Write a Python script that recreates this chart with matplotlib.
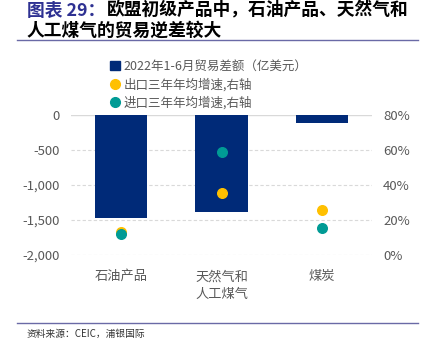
import matplotlib
matplotlib.use("Agg")
import matplotlib.pyplot as plt
from matplotlib.lines import Line2D
from matplotlib.patches import Patch
import numpy as np

plt.rcParams["font.family"] = ["Noto Sans CJK SC", "DejaVu Sans"]
plt.rcParams["axes.unicode_minus"] = False

# 数据
categories = ["石油产品", "天然气和\n人工煤气", "煤炭"]
trade_balance = [-1470, -1385, -115]       # 2022年1-6月贸易差额（亿美元）
export_growth = [13.0, 35.5, 25.7]         # 出口三年年均增速 %
import_growth = [12.0, 59.0, 15.5]         # 进口三年年均增速 %

left_ticks = [0, -500, -1000, -1500, -2000]
right_ticks = [0, 20, 40, 60, 80]

NAVY = "#002A78"
GOLD = "#FFC000"
TEAL = "#009B95"
GRAY = "#595959"

fig = plt.figure(figsize=(4.26, 3.44), dpi=100)
fig.set_facecolor("white")

# 标题
fig.text(0.064, 0.969, "图表 29：", color="#2E3192", fontsize=12.8,
         fontweight="bold", ha="left", va="center")
fig.text(0.250, 0.969, "欧盟初级产品中，石油产品、天然气和", color="black",
         fontsize=12.8, fontweight="bold", ha="left", va="center")
fig.text(0.062, 0.910, "人工煤气的贸易逆差较大", color="black",
         fontsize=12.8, fontweight="bold", ha="left", va="center")
fig.add_artist(Line2D([0.040, 0.981], [0.884, 0.884], color="#6A6AA6", lw=1.0))
fig.add_artist(Line2D([0.040, 0.981], [0.061, 0.061], color="#6A6AA6", lw=1.0))
fig.text(0.062, 0.028, "资料来源：CEIC，浦银国际", fontsize=7, color="#333333",
         ha="left", va="center")

ax = fig.add_axes([0.167, 0.259, 0.706, 0.407])
x = np.arange(len(categories))
ax.bar(x, trade_balance, width=0.52, color=NAVY, zorder=3)
ax.set_xlim(-0.5, 2.5)
ax.set_ylim(-2000, 0)
ax.set_yticks(left_ticks)
ax.set_yticklabels([f"{v:,}" for v in left_ticks])
ax.set_xticks(x)
ax.set_xticklabels(categories, fontsize=10, color=GRAY, linespacing=1.5)
ax.tick_params(axis="both", length=0, colors=GRAY, labelsize=9.5, pad=8)
ax.tick_params(axis="x", pad=11)
for s in ax.spines.values():
    s.set_visible(False)
for v in left_ticks[1:]:
    ax.axhline(v, color="#D9D9D9", lw=0.8, ls=(0, (3, 2)), zorder=1)
ax.axhline(0, color="#D9D9D9", lw=1.0, zorder=2)

ax2 = ax.twinx()
ax2.set_ylim(0, 80)
ax2.set_yticks(right_ticks)
ax2.set_yticklabels([f"{v}%" for v in right_ticks])
ax2.tick_params(axis="y", length=0, colors=GRAY, labelsize=9.5, pad=8)
for s in ax2.spines.values():
    s.set_visible(False)
ax2.scatter(x, export_growth, s=48, color=GOLD, zorder=4)
ax2.scatter(x, import_growth, s=48, color=TEAL, zorder=5)

handles = [
    Patch(color=NAVY, label="2022年1-6月贸易差额（亿美元）"),
    Line2D([], [], marker="o", ls="", color=GOLD, markersize=7, label="出口三年年均增速,右轴"),
    Line2D([], [], marker="o", ls="", color=TEAL, markersize=7, label="进口三年年均增速,右轴"),
]
fig.legend(handles=handles, loc="upper left", bbox_to_anchor=(0.238, 0.852),
           frameon=False, fontsize=9, labelcolor=GRAY, handlelength=0.8,
           handletextpad=0.3, labelspacing=0.4, borderpad=0.2)

fig.savefig("out.png", dpi=100, facecolor="white")
